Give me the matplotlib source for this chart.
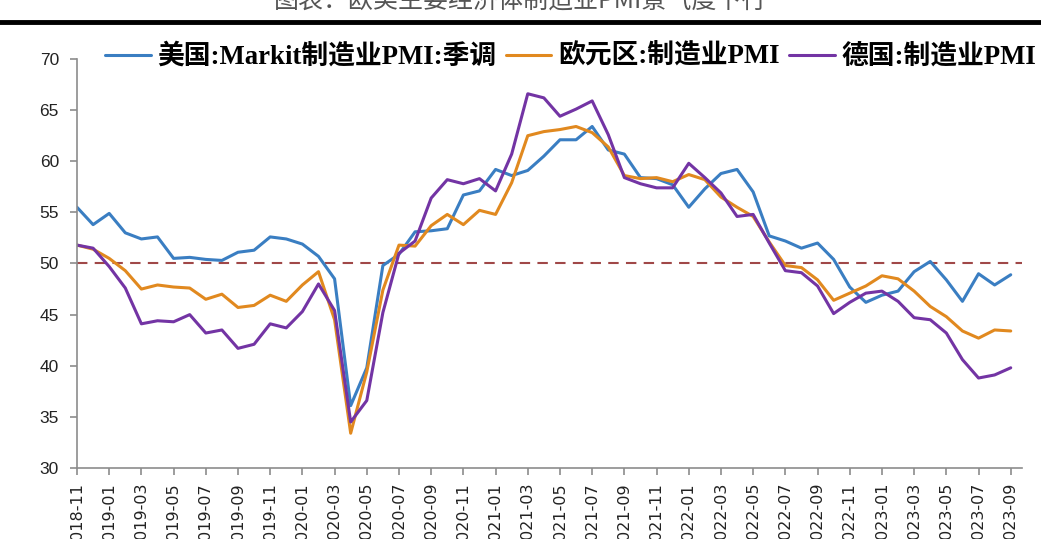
import matplotlib
matplotlib.use("Agg")
import matplotlib.pyplot as plt
import numpy as np
import pandas as pd

# ---- data ----
months = pd.period_range("2018-11", "2023-09", freq="M").strftime("%Y-%m").tolist()

us_pmi = [55.5, 53.8, 54.9, 53.0, 52.4, 52.6, 50.5, 50.6, 50.4, 50.3, 51.1, 51.3,
          52.6, 52.4, 51.9, 50.7, 48.5, 36.1, 39.8, 49.8, 50.9, 53.1, 53.2, 53.4,
          56.7, 57.1, 59.2, 58.6, 59.1, 60.5, 62.1, 62.1, 63.4, 61.1, 60.7, 58.4,
          58.3, 57.7, 55.5, 57.3, 58.8, 59.2, 57.0, 52.7, 52.2, 51.5, 52.0, 50.4,
          47.7, 46.2, 46.9, 47.3, 49.2, 50.2, 48.4, 46.3, 49.0, 47.9, 48.9]

ez_pmi = [51.8, 51.4, 50.5, 49.3, 47.5, 47.9, 47.7, 47.6, 46.5, 47.0, 45.7, 45.9,
          46.9, 46.3, 47.9, 49.2, 44.5, 33.4, 39.4, 47.4, 51.8, 51.7, 53.7, 54.8,
          53.8, 55.2, 54.8, 57.9, 62.5, 62.9, 63.1, 63.4, 62.8, 61.4, 58.6, 58.3,
          58.4, 58.0, 58.7, 58.2, 56.5, 55.5, 54.6, 52.1, 49.8, 49.6, 48.4, 46.4,
          47.1, 47.8, 48.8, 48.5, 47.3, 45.8, 44.8, 43.4, 42.7, 43.5, 43.4]

de_pmi = [51.8, 51.5, 49.7, 47.6, 44.1, 44.4, 44.3, 45.0, 43.2, 43.5, 41.7, 42.1,
          44.1, 43.7, 45.3, 48.0, 45.4, 34.5, 36.6, 45.2, 51.0, 52.2, 56.4, 58.2,
          57.8, 58.3, 57.1, 60.7, 66.6, 66.2, 64.4, 65.1, 65.9, 62.6, 58.4, 57.8,
          57.4, 57.4, 59.8, 58.4, 56.9, 54.6, 54.8, 52.0, 49.3, 49.1, 47.8, 45.1,
          46.2, 47.1, 47.3, 46.3, 44.7, 44.5, 43.2, 40.6, 38.8, 39.1, 39.8]

series_labels = ["美国:Markit制造业PMI:季调", "欧元区:制造业PMI", "德国:制造业PMI"]
series_colors = ["#3A7EC2", "#E1891F", "#7334A4"]
threshold = 50
title_text = "图表：欧美主要经济体制造业PMI景气度下行"

# ---- figure ----
fig = plt.figure(figsize=(10.41, 5.39), dpi=100)
ax = fig.add_axes([77/1041, 71/539, (1022-77)/1041, (468-59)/539])

x = np.arange(len(months))
for vals, lab, col in zip([us_pmi, ez_pmi, de_pmi], series_labels, series_colors):
    ax.plot(x, vals, color=col, lw=2.2, label=lab, solid_joinstyle="round",
            solid_capstyle="round")

ax.axhline(threshold, color="#A04848", lw=1.5, ls=(0, (5, 3.5)), zorder=1)

ax.set_ylim(30, 70)
ax.set_yticks(range(30, 71, 5))
ax.set_xlim(0, 58.7)
ax.set_xticks(x[::2])
ax.set_xticklabels(months[::2], rotation=90, fontsize=11.5, family="DejaVu Sans",
                   color="#222222")
for lbl in ax.get_yticklabels():
    lbl.set_fontsize(12.5)
    lbl.set_family("Liberation Sans")
    lbl.set_color("#222222")

for s in ["top", "right"]:
    ax.spines[s].set_visible(False)
for s in ["left", "bottom"]:
    ax.spines[s].set_color("#8C8C8C")
    ax.spines[s].set_linewidth(1.2)
ax.tick_params(axis="both", colors="#8C8C8C", length=5, width=1.2, direction="out",
               labelcolor="#222222")
ax.tick_params(axis="y", pad=8)
ax.tick_params(axis="x", pad=5)

leg = ax.legend(loc="center right", bbox_to_anchor=(1036/1041, 1 - 57/539),
                bbox_transform=fig.transFigure, ncol=3, frameon=False,
                handlelength=1.7, handletextpad=0.25, columnspacing=0.35,
                borderpad=0.0, borderaxespad=0.0,
                prop={"family": ["Liberation Serif", "Noto Sans CJK SC"],
                      "weight": "bold", "size": 19.3})

# cropped title and rule at top
fig.text(0.5, 1 - 1/539, title_text, ha="center", va="center",
         fontsize=18, family=["Noto Sans CJK SC"], color="#555555")
fig.add_artist(plt.Line2D([0, 1], [1 - 22/539, 1 - 22/539], transform=fig.transFigure,
                          color="black", lw=3.5))

fig.savefig("out.png", dpi=100)
